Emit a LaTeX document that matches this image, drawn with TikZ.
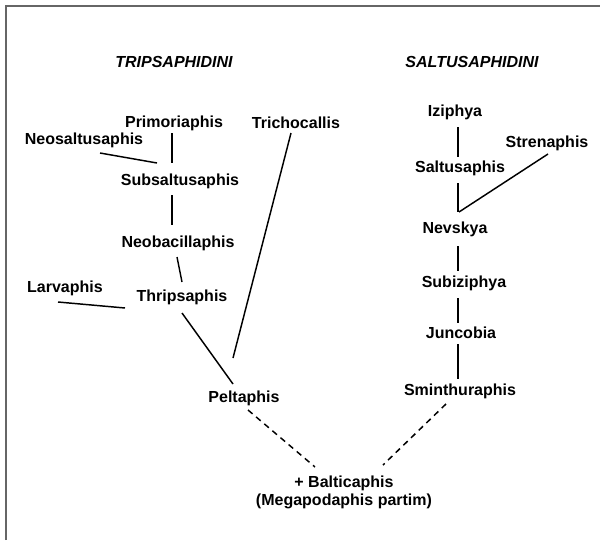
\documentclass[tikz,border=0pt]{standalone}
\usepackage{fontspec}
\setmainfont{Liberation Sans}
\usepackage{tikz}

\begin{document}
\begin{tikzpicture}[x=0.75pt, y=-0.75pt,
    taxon/.style={font=\fontsize{12}{13.5}\selectfont\bfseries, inner sep=0pt, align=center},
    tribe/.style={font=\fontsize{12}{13.5}\selectfont\bfseries\itshape, inner sep=0pt},
    link/.style={line width=1.1pt},
    dashlink/.style={line width=1.1pt, dash pattern=on 4.5pt off 3.5pt}]
        \useasboundingbox (0,0) rectangle (600,540);
        \draw [black!60, line width=1.5pt] (6,540) -- (6,6) -- (600,6);
        % tribes
        \node [tribe] (trip) at (174,62) {TRIPSAPHIDINI};
        \node [tribe] (salt) at (472,62) {SALTUSAPHIDINI};
        % left branch
        \node [taxon] (prim) at (174,123) {Primoriaphis};
        \node [taxon] (neos) at (84,140) {Neosaltusaphis};
        \node [taxon] (trich) at (296,123) {Trichocallis};
        \node [taxon] (subs) at (180,181) {Subsaltusaphis};
        \node [taxon] (neob) at (178,243) {Neobacillaphis};
        \node [taxon] (thrip) at (182,297) {Thripsaphis};
        \node [taxon] (larv) at (65,288) {Larvaphis};
        \node [taxon] (pelt) at (244,398) {Peltaphis};
        % right branch
        \node [taxon] (izi) at (455,112) {Iziphya};
        \node [taxon] (stren) at (547,143) {Strenaphis};
        \node [taxon] (saltu) at (460,168) {Saltusaphis};
        \node [taxon] (nevs) at (455,229) {Nevskya};
        \node [taxon] (subiz) at (464,283) {Subiziphya};
        \node [taxon] (junc) at (461,333) {Juncobia};
        \node [taxon] (smin) at (460,391) {Sminthuraphis};
        % root
        \node [taxon] (balt) at (344,492) {+ Balticaphis\\(Megapodaphis partim)};

        \draw [link] ([shift={(-2,10)}]prim.center) -- ([shift={(-8,-18)}]subs.center);
        \draw [link] ([shift={(16,13)}]neos.center) -- ([shift={(-23,-18)}]subs.center);
        \draw [link] ([shift={(-8,14)}]subs.center) -- ([shift={(-6,-18)}]neob.center);
        \draw [link] ([shift={(-1,14)}]neob.center) -- ([shift={(0,-15)}]thrip.center);
        \draw [link] ([shift={(-5,10)}]trich.center) -- ([shift={(-11,-40)}]pelt.center);
        \draw [link] ([shift={(-7,14)}]larv.center) -- ([shift={(-57,11)}]thrip.center);
        \draw [link] ([shift={(0,16)}]thrip.center) -- ([shift={(-11,-14)}]pelt.center);

        \draw [link] ([shift={(3,15)}]izi.center) -- ([shift={(-2,-11)}]saltu.center);
        \draw [link] ([shift={(-2,15)}]saltu.center) -- ([shift={(3,-17)}]nevs.center);
        \draw [link] ([shift={(1,11)}]stren.center) -- ([shift={(4,-17)}]nevs.center);
        \draw [link] ([shift={(3,17)}]nevs.center) -- ([shift={(-6,-12)}]subiz.center);
        \draw [link] ([shift={(-6,15)}]subiz.center) -- ([shift={(-3,-10)}]junc.center);
        \draw [link] ([shift={(-3,11)}]junc.center) -- ([shift={(-2,-12)}]smin.center);

        \draw [dashlink] ([shift={(4,12)}]pelt.center) -- ([shift={(-29,-25)}]balt.center);
        \draw [dashlink] ([shift={(-14,13)}]smin.center) -- ([shift={(39,-27)}]balt.center);
      \end{tikzpicture}
\end{document}
